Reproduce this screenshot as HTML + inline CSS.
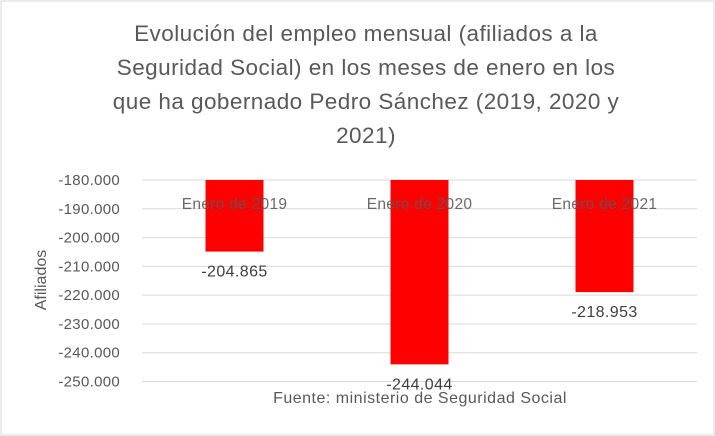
<!DOCTYPE html>
<html><head><meta charset="utf-8"><style>
body{margin:0;background:#fff;}
svg{display:block;font-family:"Liberation Sans",sans-serif;}
</style></head><body>
<svg id="chart" width="715" height="436">
<rect x="1" y="1" width="713" height="434" fill="#fff" stroke="#d9d9d9"/>
<g fill="#595959" font-size="22.5" letter-spacing="0.45" text-anchor="middle">
<text x="366" y="41">Evolución del empleo mensual (afiliados a la</text>
<text x="366" y="75">Seguridad Social) en los meses de enero en los</text>
<text x="366" y="109">que ha gobernado Pedro Sánchez (2019, 2020 y</text>
<text x="366" y="143">2021)</text>
</g>
<g id="grid"></g><g id="yticks"></g><g id="bars"></g>
<text transform="translate(46,280) rotate(-90)" text-anchor="middle" font-size="16" fill="#595959">Afiliados</text>
<text x="420" y="403" text-anchor="middle" font-size="16" letter-spacing="0.5" fill="#595959">Fuente: ministerio de Seguridad Social</text>
</svg>
<script>
const categories=["Enero de 2019","Enero de 2020","Enero de 2021"];
const values=[-204865,-244044,-218953];
const valueLabels=["-204.865","-244.044","-218.953"];
const ticks=[-180000,-190000,-200000,-210000,-220000,-230000,-240000,-250000];
const tickLabels=["-180.000","-190.000","-200.000","-210.000","-220.000","-230.000","-240.000","-250.000"];
const NS="http://www.w3.org/2000/svg";
const x0=142,x1=697,yTop=180,yBot=381.5,vTop=-180000,vBot=-250000;
const y=v=>yTop+(v-vTop)/(vBot-vTop)*(yBot-yTop);
const band=(x1-x0)/categories.length;
const xc=i=>x0+band*(i+0.5);
function mk(t,a,p){const e=document.createElementNS(NS,t);for(const k in a)e.setAttribute(k,a[k]);p.appendChild(e);return e;}
const g=document.getElementById('grid'),yt=document.getElementById('yticks'),b=document.getElementById('bars');
ticks.forEach((v,i)=>{
 const l=mk('line',{x1:x0,x2:x1,y1:y(v),y2:y(v),stroke:'#d9d9d9','stroke-width':1},g);
 
 
 const t=mk('text',{x:120,y:y(v)+5,'text-anchor':'end','font-size':15,'letter-spacing':0.3,fill:'#595959'},yt);
 t.textContent=tickLabels[i];
 
 
});
const bw=58;
values.forEach((v,i)=>{
 const r=mk('rect',{x:xc(i)-bw/2,y:y(vTop),width:bw,height:y(v)-y(vTop),fill:'#ff0000'},b);
 
 
 const c=mk('text',{x:xc(i),y:209,'text-anchor':'middle','font-size':15.5,'letter-spacing':0.3,fill:'#595959','fill-opacity':0.9},b);
 c.textContent=categories[i];
 
 
 const d=mk('text',{x:xc(i),y:y(v)+25,'text-anchor':'middle','font-size':16,'letter-spacing':0.4,fill:'#404040'},b);
 d.textContent=valueLabels[i];
 
 
});
</script>
</body></html>
